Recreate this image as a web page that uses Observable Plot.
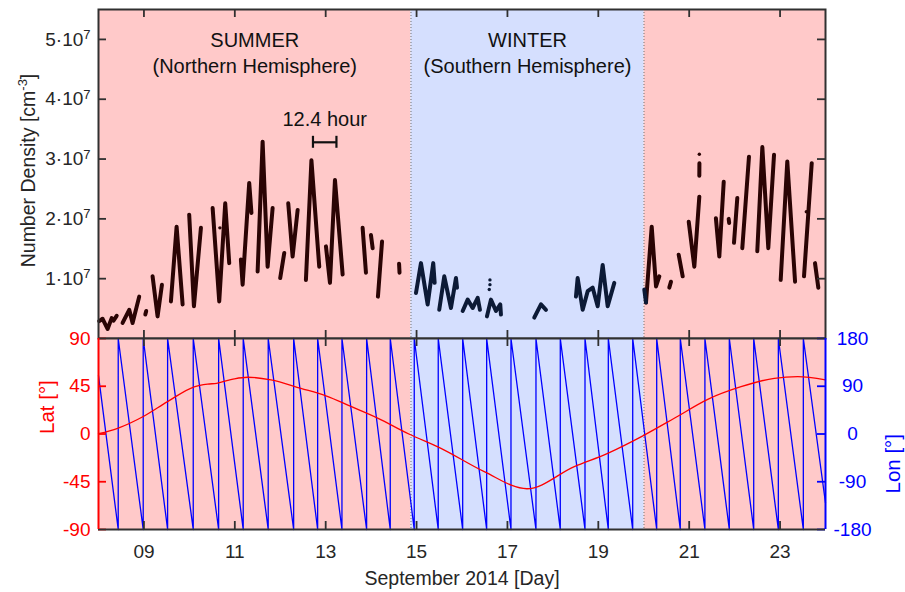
<!DOCTYPE html>
<html><head><meta charset="utf-8">
<script src="https://cdn.jsdelivr.net/npm/d3@7"></script>
<script src="https://cdn.jsdelivr.net/npm/@observablehq/plot@0.6"></script>
<style>
body{margin:0;background:#fff;}
#chart{position:relative;width:905px;height:592px;font-family:"Liberation Sans",Arial,sans-serif;}
#chart svg{position:absolute;left:0;overflow:visible;background:transparent;}
</style></head><body><div id="chart"></div>
<script>
// ---------- DATA ----------
const xTicks = [9, 11, 13, 15, 17, 19, 21, 23];
const densityTicks = [1, 2, 3, 4, 5];          // ×10^7 cm^-3
const latTicks = [-90, -45, 0, 45, 90];
const lonTicks = [-180, -90, 0, 90, 180];

const summerRanges = [[8, 14.877], [20.005, 24]];
const winterRanges = [[14.877, 20.005]];
const seasonBoundaries = [14.877, 20.005];

// number density (units of 1e7 cm^-3), read as polyline segments
const summerSegments = [
  [[8.015,0.29],[8.09,0.33],[8.20,0.16],[8.29,0.34],[8.33,0.30],[8.40,0.38]],
  [[8.53,0.26],[8.676,0.48],[8.75,0.26],[8.896,0.70]],
  [[9.03,0.40],[9.05,0.46]],
  [[9.19,1.04],[9.30,0.37],[9.396,0.90]],
  [[9.594,0.62],[9.719,1.87],[9.851,0.57]],
  [[9.996,2.07],[10.10,0.54],[10.254,1.85]],
  [[10.512,2.18],[10.657,0.62],[10.789,2.26],[10.877,1.26]],
  [[11.134,1.32],[11.172,0.90],[11.317,2.60],[11.366,2.10]],
  [[11.502,1.12],[11.612,3.29],[11.722,1.20],[11.832,2.18]],
  [[11.999,1.01],[12.088,1.43]],
  [[12.176,2.26],[12.272,1.37],[12.383,2.15]],
  [[12.565,0.98],[12.686,2.98],[12.858,1.20]],
  [[13.006,1.54],[13.094,0.93],[13.204,2.65],[13.373,1.07]],
  [[13.813,1.85],[13.886,1.10]],
  [[13.996,1.73],[14.034,1.51]],
  [[14.15,0.70],[14.24,1.62]],
  [[14.615,1.25],[14.625,1.10]],
  [[20.049,0.60],[20.175,1.87],[20.27,0.87],[20.342,1.04]],
  [[20.562,0.85],[20.60,0.95]],
  [[20.769,1.40],[20.857,1.04]],
  [[20.99,1.95],[21.113,1.20],[21.223,2.37]],
  [[21.223,2.72],[21.225,2.93]],
  [[21.588,2.01],[21.663,1.37],[21.76,2.62]],
  [[21.869,2.00],[21.88,1.93]],
  [[21.986,1.60],[22.059,2.35]],
  [[22.169,1.51],[22.316,3.04]],
  [[22.499,1.46],[22.61,3.20],[22.741,1.51],[22.867,3.07]],
  [[23.014,0.98],[23.159,2.96],[23.33,0.95]],
  [[23.527,1.04],[23.697,2.93]],
  [[23.769,1.26],[23.842,0.85]]
];
const summerDots = [[10.672,1.85],[21.223,3.08],[23.578,2.12]];
const winterSegments = [
  [[14.987,0.76],[15.097,1.26],[15.244,0.57],[15.367,1.26],[15.398,0.93]],
  [[15.499,0.48],[15.61,1.04],[15.757,0.51],[15.867,1.01],[15.89,0.85]],
  [[16.015,0.46],[16.125,0.65],[16.235,0.51],[16.345,0.68],[16.395,0.48]],
  [[16.549,0.37],[16.637,0.65],[16.748,0.46],[16.842,0.57],[16.857,0.40]],
  [[17.59,0.35],[17.738,0.57],[17.848,0.48]],
  [[18.508,0.70],[18.545,1.01],[18.656,0.48],[18.766,0.79],[18.876,0.85],[18.986,0.54],[19.096,1.23],[19.206,0.54],[19.352,0.93]],
  [[20.012,0.82],[20.049,0.60]]
];
const winterDots = [[16.615,0.98],[16.615,0.90],[16.60,0.82]];

// latitude of the spacecraft (deg)
const latDays = [8.0,8.42,9.006,9.52,10.107,10.40,10.60,10.987,11.28,11.795,12.455,13.006,13.556,14.144,14.83,15.537,16.49,17.43,18.471,19.206,20.012,20.672,21.408,22.141,22.873,23.389,24.0];
const latValues = [0.3,5.4,17,30.5,44.5,47,47.8,52,53.5,51,43,36,26,15,0,-13.5,-35.5,-51.6,-30.8,-18.2,-1,14.8,32.7,44.6,52.5,54,51];

// longitude: days where it wraps from -180 to 180
const lonStart = [8, 110];
const lonWrapDays = [8.434,8.984,9.521,10.085,10.644,11.185,11.735,12.295,12.823,13.358,13.901,14.421,14.949,15.477,16.015,16.543,17.078,17.628,18.163,18.707,19.220,19.757,20.285,20.804,21.346,21.883,22.420,22.962,23.512];
const lonEnd = [24, -130];

const periodBar = {start: 12.72, hours: 12.4, level: 3.28};

// ---------- BUILD ----------
const PINK = "#ffc9c9", BLUE = "#d5dffe", FRAME = "#303030", TXT = "#262626";
const SUMMER_C = "#2a0404", WINTER_C = "#0c1a36";
const FONT = "'Liberation Sans', Arial, sans-serif";
const TICK_FS = 19, LABEL_FS = 19.5, ANNO_FS = 20;
const U = 1e7;
const toRows = segs => segs.flatMap((s, i) => s.map(([day, v]) => ({seg: i, day, value: v * U})));
const summerRows = toRows(summerSegments);
const winterRows = toRows(winterSegments);
const toDots = ds => ds.map(([day, v]) => ({day, value: v * U}));
const latRows = latDays.map((d, i) => ({day: d, lat: latValues[i]}));
const lonRows = [lonStart, ...lonWrapDays.flatMap(d => [[d, -180], [d, 180]]), lonEnd].map(([day, lon]) => ({day, lon}));
const summerR = summerRanges.map(([a, b]) => ({a, b}));
const winterR = winterRanges.map(([a, b]) => ({a, b}));
const barEnd = periodBar.start + periodBar.hours / 24;

const W = 905, mL = 98, mR = 80, PW = W - mL - mR;
const topH = 340, topMT = 9, topMB = 2, topPH = topH - topMT - topMB;
const botH = 254, botMT = 2, botMB = 61, botPH = botH - botMT - botMB;
const tickLen = 8;
const style = {fontFamily: FONT, fontSize: TICK_FS + "px", color: TXT, background: "transparent", overflow: "visible"};

const bg = () => [
  Plot.rect(summerR, {x1: "a", x2: "b", fill: PINK}),
  Plot.rect(winterR, {x1: "a", x2: "b", fill: BLUE}),
  Plot.ruleX(seasonBoundaries, {stroke: "#666", strokeDasharray: "1,2", strokeWidth: 0.9})
];
const anno = (data, text, dy) => Plot.text(data, {x: d => (d.a + d.b) / 2, frameAnchor: "top", lineAnchor: "middle", dy, text: () => text, fontSize: ANNO_FS, fill: "#111"});

const topPlot = Plot.plot({
  width: W, height: topH, marginLeft: mL, marginRight: mR, marginTop: topMT, marginBottom: topMB,
  x: {domain: [8, 24], axis: null},
  y: {domain: [0, 5.5e7]},
  style,
  marks: [
    ...bg(),
    Plot.line(summerRows, {x: "day", y: "value", z: "seg", stroke: SUMMER_C, strokeWidth: 4, strokeLinecap: "round", strokeLinejoin: "round"}),
    Plot.line(winterRows, {x: "day", y: "value", z: "seg", stroke: WINTER_C, strokeWidth: 4, strokeLinecap: "round", strokeLinejoin: "round"}),
    Plot.dot(toDots(summerDots), {x: "day", y: "value", r: 1.7, fill: SUMMER_C}),
    Plot.dot(toDots(winterDots), {x: "day", y: "value", r: 1.7, fill: WINTER_C}),
    anno(summerR.slice(0, 1), "SUMMER", 31.5),
    anno(summerR.slice(0, 1), "(Northern Hemisphere)", 57),
    anno(winterR, "WINTER", 31.5),
    anno(winterR, "(Southern Hemisphere)", 57),
    Plot.ruleY([periodBar.level * U], {x1: periodBar.start, x2: barEnd, stroke: "#111", strokeWidth: 2.2}),
    Plot.ruleX([periodBar.start, barEnd], {y1: (periodBar.level - 0.1) * U, y2: (periodBar.level + 0.1) * U, stroke: "#111", strokeWidth: 2.2}),
    Plot.text([`${periodBar.hours} hour`], {x: (periodBar.start + barEnd) / 2, y: (periodBar.level + 0.38) * U, lineAnchor: "middle", text: d => d, fontSize: ANNO_FS, fill: "#111"}),
    // inward ticks
    Plot.ruleX(xTicks, {insetTop: topPH - tickLen, stroke: FRAME, strokeWidth: 1.8}),
    Plot.ruleX(xTicks, {insetBottom: topPH - tickLen, stroke: FRAME, strokeWidth: 1.8}),
    Plot.ruleY(densityTicks.map(d => d * U), {insetRight: PW - tickLen, stroke: FRAME, strokeWidth: 1.8}),
    Plot.ruleY(densityTicks.map(d => d * U), {insetLeft: PW - tickLen, stroke: FRAME, strokeWidth: 1.8}),
    Plot.frame({stroke: FRAME, strokeWidth: 2}),
    Plot.axisY(densityTicks.map(d => d * U), {anchor: "left", tickSize: 0, tickPadding: 8, tickFormat: d => `${d / U}·10`, label: null, fill: TXT, fontSize: TICK_FS})
  ]
});

const botPlot = Plot.plot({
  width: W, height: botH, marginLeft: mL, marginRight: mR, marginTop: botMT, marginBottom: botMB,
  x: {domain: [8, 24]},
  y: {domain: [-90, 90]},
  style,
  marks: [
    ...bg(),
    Plot.line(lonRows, {x: "day", y: d => d.lon / 2, stroke: "#0000ff", strokeWidth: 1.3}),
    Plot.line(latRows, {x: "day", y: "lat", stroke: "#ff0000", strokeWidth: 1.3, curve: "monotone-x"}),
    Plot.ruleX(xTicks, {insetTop: botPH - tickLen, stroke: FRAME, strokeWidth: 1.8}),
    Plot.ruleX(xTicks, {insetBottom: botPH - tickLen, stroke: FRAME, strokeWidth: 1.8}),
    Plot.ruleY(latTicks, {insetRight: PW - tickLen, stroke: "#ff0000", strokeWidth: 1.8}),
    Plot.ruleY(lonTicks.map(d => d / 2), {insetLeft: PW - tickLen, stroke: "#0000ff", strokeWidth: 1.8}),
    Plot.ruleY([-90, 90], {stroke: FRAME, strokeWidth: 2}),
    Plot.ruleX([8], {stroke: "#ff0000", strokeWidth: 2}),
    Plot.ruleX([24], {stroke: "#0000ff", strokeWidth: 2}),
    Plot.axisX(xTicks, {anchor: "bottom", tickSize: 0, tickPadding: 15, tickFormat: d => String(d).padStart(2, "0"), label: null, fill: TXT, fontSize: TICK_FS}),
    Plot.axisY(latTicks, {anchor: "left", tickSize: 0, tickPadding: 8, tickFormat: d => String(d), label: null, fill: "#ff0000", fontSize: TICK_FS}),
    Plot.axisY(lonTicks.map(d => d / 2), {anchor: "right", tickSize: 0, tickPadding: 27, textAnchor: "middle", tickFormat: d => String(d * 2), label: null, fill: "#0000ff", fontSize: TICK_FS}),
    Plot.text(["Lat [°]"], {frameAnchor: "left", lineAnchor: "middle", dx: -51, rotate: -90, text: d => d, fill: "#ff0000", fontSize: LABEL_FS + 1}),
    Plot.text(["Lon [°]"], {frameAnchor: "right", lineAnchor: "middle", dx: 68, rotate: -90, text: d => d, fill: "#0000ff", fontSize: LABEL_FS + 1}),
    Plot.text(["September 2014 [Day]"], {frameAnchor: "bottom", lineAnchor: "middle", dy: 49, text: d => d, fill: TXT, fontSize: LABEL_FS})
  ]
});

const chart = document.getElementById("chart");
topPlot.style.top = "0px";
botPlot.style.top = "336px";
chart.appendChild(topPlot);
chart.appendChild(botPlot);

// superscript exponents on density tick labels
d3.select(topPlot).selectAll('g[aria-label="y-axis tick label"] text').each(function () {
  d3.select(this).append("tspan").attr("dy", "-0.5em").attr("font-size", 13).text("7");
});
// density axis title with superscript
const t = d3.select(topPlot).append("text")
  .attr("transform", `translate(35,${topMT + topPH / 2 - 3}) rotate(-90)`)
  .attr("text-anchor", "middle").attr("fill", TXT)
  .attr("font-family", FONT).attr("font-size", LABEL_FS);
t.append("tspan").text("Number Density [cm");
t.append("tspan").attr("dy", -8).attr("font-size", 13).text("-3");
t.append("tspan").attr("dy", 8).text("]");
</script></body></html>
